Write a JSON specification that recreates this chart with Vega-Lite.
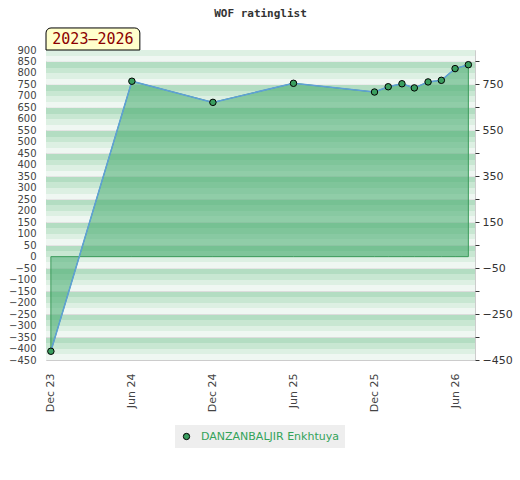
{
  "$schema": "https://vega.github.io/schema/vega-lite/v6.json",
  "width": 429,
  "height": 310,
  "autosize": {"type": "none"},
  "padding": {"left": 46, "top": 50, "right": 45, "bottom": 120},
  "background": "white",
  "title": {"text": "WOF ratinglist", "font": "DejaVu Sans Mono", "fontWeight": "bold", "fontSize": 11, "color": "#333333", "anchor": "middle", "offset": 8},
  "config": {"view": {"stroke": "#cccccc", "strokeWidth": 1}, "font": "DejaVu Sans"},
  "datasets": {
    "ratings": [
      {"date": "2023-12-01", "rating": -412, "name": "DANZANBALJIR Enkhtuya"},
      {"date": "2024-06-01", "rating": 764, "name": "DANZANBALJIR Enkhtuya"},
      {"date": "2024-12-01", "rating": 672, "name": "DANZANBALJIR Enkhtuya"},
      {"date": "2025-06-01", "rating": 755, "name": "DANZANBALJIR Enkhtuya"},
      {"date": "2025-12-01", "rating": 717, "name": "DANZANBALJIR Enkhtuya"},
      {"date": "2026-01-01", "rating": 740, "name": "DANZANBALJIR Enkhtuya"},
      {"date": "2026-02-01", "rating": 753, "name": "DANZANBALJIR Enkhtuya"},
      {"date": "2026-03-01", "rating": 735, "name": "DANZANBALJIR Enkhtuya"},
      {"date": "2026-04-01", "rating": 761, "name": "DANZANBALJIR Enkhtuya"},
      {"date": "2026-05-01", "rating": 768, "name": "DANZANBALJIR Enkhtuya"},
      {"date": "2026-06-01", "rating": 819, "name": "DANZANBALJIR Enkhtuya"},
      {"date": "2026-07-01", "rating": 836, "name": "DANZANBALJIR Enkhtuya"}
    ],
    "bands": [
      {"top": 950, "bottom": 850},
      {"top": 850, "bottom": 750},
      {"top": 750, "bottom": 650},
      {"top": 650, "bottom": 550},
      {"top": 550, "bottom": 450},
      {"top": 450, "bottom": 350},
      {"top": 350, "bottom": 250},
      {"top": 250, "bottom": 150},
      {"top": 150, "bottom": 50},
      {"top": 50, "bottom": -50},
      {"top": -50, "bottom": -150},
      {"top": -150, "bottom": -250},
      {"top": -250, "bottom": -350},
      {"top": -350, "bottom": -450}
    ],
    "badge": [{"label": "2023–2026"}]
  },
  "resolve": {"scale": {"y": "shared", "x": "shared"}, "axis": {"y": "independent", "x": "independent"}},
  "layer": [
    {
      "data": {"name": "bands"},
      "mark": {
        "type": "rect",
        "clip": true,
        "color": {
          "gradient": "linear", "x1": 0, "y1": 0, "x2": 0, "y2": 1,
          "stops": [
            {"offset": 0, "color": "#dcdcdc"},
            {"offset": 0.04, "color": "#dcdcdc"},
            {"offset": 0.04, "color": "#b3ddc2"},
            {"offset": 0.27, "color": "#b3ddc2"},
            {"offset": 0.27, "color": "#c8e7d2"},
            {"offset": 0.51, "color": "#c8e7d2"},
            {"offset": 0.51, "color": "#ddf0e3"},
            {"offset": 0.75, "color": "#ddf0e3"},
            {"offset": 0.75, "color": "#eff7f2"},
            {"offset": 1, "color": "#eff7f2"}
          ]
        }
      },
      "encoding": {
        "y": {"field": "top", "type": "quantitative", "scale": {"domain": [-450, 900], "nice": false, "zero": false}, "axis": null},
        "y2": {"field": "bottom"}
      }
    },
    {
      "data": {"name": "ratings"},
      "mark": {"type": "area", "color": "#46ab6e", "fillOpacity": 0.56, "stroke": "#3a9a5a", "strokeWidth": 1, "strokeOpacity": 1},
      "encoding": {
        "x": {
          "field": "date", "type": "temporal",
          "scale": {"domain": [{"year": 2023, "month": 11, "date": 20}, {"year": 2026, "month": 7, "date": 16}]},
          "axis": {
            "title": null,
            "values": [
              {"year": 2023, "month": 12, "date": 1},
              {"year": 2024, "month": 6, "date": 1},
              {"year": 2024, "month": 12, "date": 1},
              {"year": 2025, "month": 6, "date": 1},
              {"year": 2025, "month": 12, "date": 1},
              {"year": 2026, "month": 6, "date": 1}
            ],
            "format": "%b %y",
            "labelAngle": 270,
            "labelPadding": 13,
            "ticks": false,
            "domain": false,
            "grid": false,
            "labelOverlap": false,
            "labelFontSize": 11,
            "labelColor": "#444444",
            "labelFont": "DejaVu Sans"
          }
        },
        "y": {
          "field": "rating", "type": "quantitative",
          "scale": {"domain": [-450, 900], "nice": false, "zero": false},
          "axis": {
            "orient": "left",
            "title": null,
            "values": [-450, -400, -350, -300, -250, -200, -150, -100, -50, 0, 50, 100, 150, 200, 250, 300, 350, 400, 450, 500, 550, 600, 650, 700, 750, 800, 850, 900],
            "ticks": false,
            "domain": false,
            "grid": false,
            "labelOverlap": false,
            "labelPadding": 10,
            "labelFontSize": 10,
            "labelColor": "#444444",
            "labelFont": "DejaVu Sans"
          }
        },
        "y2": {"datum": 0}
      }
    },
    {
      "data": {"name": "ratings"},
      "mark": {"type": "line", "color": "#5fa0d8", "strokeWidth": 1.5},
      "encoding": {
        "x": {"field": "date", "type": "temporal", "axis": null},
        "y": {
          "field": "rating", "type": "quantitative",
          "scale": {"domain": [-450, 900], "nice": false, "zero": false},
          "axis": {
            "orient": "right",
            "title": null,
            "values": [-450, -350, -250, -150, -50, 50, 150, 250, 350, 450, 550, 650, 750, 850],
            "labelExpr": "indexof([750, 550, 350, 150, -50, -250, -450], datum.value) >= 0 ? datum.label : ''",
            "tickSize": 4,
            "tickColor": "#333333",
            "domain": false,
            "grid": false,
            "labelOverlap": false,
            "labelPadding": 3,
            "labelFontSize": 11,
            "labelColor": "#333333",
            "labelFont": "DejaVu Sans"
          }
        }
      }
    },
    {
      "data": {"name": "ratings"},
      "mark": {"type": "point", "filled": true, "size": 42, "stroke": "black", "strokeWidth": 1, "opacity": 1},
      "encoding": {
        "x": {"field": "date", "type": "temporal", "axis": null},
        "y": {"field": "rating", "type": "quantitative", "scale": {"domain": [-450, 900], "nice": false, "zero": false}, "axis": null},
        "color": {
          "field": "name", "type": "nominal",
          "scale": {"range": ["#3a9e5f"]},
          "legend": {
            "title": null,
            "orient": "none",
            "legendX": 129,
            "legendY": 375,
            "direction": "horizontal",
            "fillColor": "#eeeeee",
            "padding": 6,
            "labelOffset": 9,
            "labelColor": "#33a35a",
            "labelFont": "DejaVu Sans",
            "labelFontSize": 11,
            "symbolType": "circle",
            "symbolSize": 40,
            "symbolStrokeColor": "black",
            "symbolStrokeWidth": 1,
            "symbolFillColor": "#3a9e5f"
          }
        }
      }
    },
    {
      "data": {"name": "badge"},
      "mark": {"type": "rect", "clip": false, "color": "#ffffcc", "stroke": "black", "strokeWidth": 1, "cornerRadiusTopLeft": 5, "cornerRadiusTopRight": 5},
      "encoding": {
        "x": {"datum": {"year": 2023, "month": 11, "date": 20}, "type": "temporal", "axis": null},
        "x2": {"datum": {"year": 2024, "month": 6, "date": 19}},
        "y": {"datum": 996, "type": "quantitative", "scale": {"domain": [-450, 900], "nice": false, "zero": false}, "axis": null},
        "y2": {"datum": 900}
      }
    },
    {
      "data": {"name": "badge"},
      "mark": {"type": "text", "clip": false, "font": "DejaVu Sans Mono", "fontSize": 15, "color": "#8b0000", "align": "center", "baseline": "middle"},
      "encoding": {
        "x": {"datum": {"year": 2024, "month": 3, "date": 5}, "type": "temporal", "axis": null},
        "y": {"datum": 947, "type": "quantitative", "scale": {"domain": [-450, 900], "nice": false, "zero": false}, "axis": null},
        "text": {"field": "label"}
      }
    }
  ]
}
